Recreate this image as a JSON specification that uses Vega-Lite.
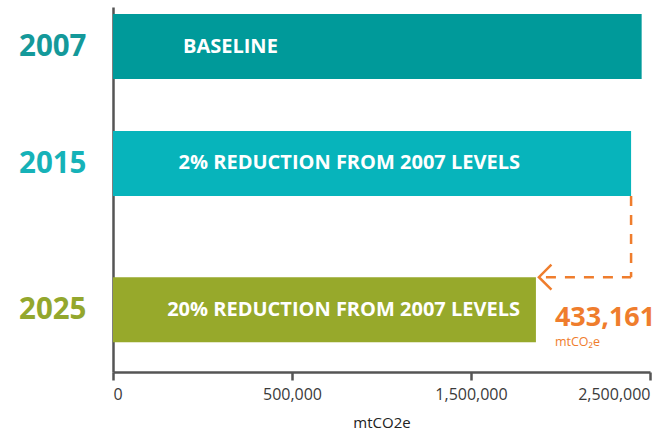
{
  "$schema": "https://vega.github.io/schema/vega-lite/v6.json",
  "autosize": "none",
  "width": 537,
  "height": 365,
  "padding": {"left": 113, "top": 7, "right": 12, "bottom": 61},
  "background": "white",
  "config": {"view": {"stroke": null}, "font": "Open Sans"},
  "datasets": {
    "bars": [
      {"year": 2007, "value": 2165805, "label": "BASELINE"},
      {"year": 2015, "value": 2122489, "label": "2% REDUCTION FROM 2007 LEVELS"},
      {"year": 2025, "value": 1732644, "label": "20% REDUCTION FROM 2007 LEVELS"}
    ],
    "note": [
      {"from_year": 2015, "to_year": 2025, "from_value": 2122489, "to_value": 1732644, "reduction": "433,161", "unit": "mtCO₂e"}
    ]
  },
  "encoding": {
    "y": {
      "field": "year", "type": "quantitative",
      "scale": {"domain": [2004.639, 2028.92], "reverse": true, "nice": false, "zero": false},
      "axis": {
        "title": null, "ticks": false, "grid": false, "values": [2007, 2015, 2025], "format": "d",
        "domainColor": "#555555", "domainWidth": 2.5,
        "labelFontSize": 29.5, "labelFontWeight": "bold", "labelPadding": 27, "labelFont": "Open Sans", "labelBaseline": "middle",
        "labelColor": {"condition": [{"test": "datum.value == 2007", "value": "#14999a"}, {"test": "datum.value == 2015", "value": "#16b2b8"}], "value": "#93a72d"}
      }
    }
  },
  "layer": [
    {
      "data": {"name": "bars"},
      "mark": {"type": "bar", "orient": "horizontal", "size": 65},
      "encoding": {
        "x": {
          "field": "value", "type": "quantitative",
          "scale": {"domain": [0, 2200000], "nice": false},
          "axis": {
            "values": [0, 733333.3333, 1466666.6667, 2200000],
            "labelExpr": "datum.value < 1 ? '0' : datum.value < 1000000 ? '500,000' : datum.value < 2000000 ? '1,500,000' : '2,500,000'",
            "grid": false, "domainColor": "#555555", "domainWidth": 2.5, "tickColor": "#555555", "tickWidth": 2.5, "tickSize": 8,
            "labelFontSize": 16, "labelColor": "#3a3a3a", "labelPadding": 6, "labelFlush": true,
            "title": "mtCO2e", "titleFontSize": 15, "titleFontWeight": "normal", "titleColor": "#222222", "titlePadding": 13
          }
        },
        "x2": {"datum": 0},
        "color": {
          "field": "year", "type": "nominal", "legend": null,
          "scale": {"domain": [2007, 2015, 2025], "range": ["#009a9a", "#07b4bb", "#97a92b"]}
        }
      }
    },
    {
      "data": {"name": "bars"},
      "transform": [{"filter": "datum.year == 2007"}],
      "mark": {"type": "text", "align": "left", "baseline": "middle", "color": "white", "fontSize": 20, "fontWeight": "bold"},
      "encoding": {"x": {"datum": 286778, "type": "quantitative"}, "text": {"field": "label"}}
    },
    {
      "data": {"name": "bars"},
      "transform": [{"filter": "datum.year != 2007"}],
      "mark": {"type": "text", "align": "right", "baseline": "middle", "color": "white", "fontSize": 20, "fontWeight": "bold"},
      "encoding": {"x": {"datum": 1667412, "type": "quantitative"}, "text": {"field": "label"}}
    },
    {
      "data": {"name": "note"},
      "mark": {"type": "rule", "color": "#ef7d2d", "strokeWidth": 2.5, "strokeDash": [10, 9], "yOffset": 32.5, "y2Offset": -32.5},
      "encoding": {
        "x": {"field": "from_value", "type": "quantitative"},
        "y": {"field": "from_year", "type": "quantitative"},
        "y2": {"field": "to_year"}
      }
    },
    {
      "data": {"name": "note"},
      "mark": {"type": "rule", "color": "#ef7d2d", "strokeWidth": 2.5, "strokeDash": [10, 9], "xOffset": 10, "yOffset": -32.5},
      "encoding": {
        "y": {"field": "to_year", "type": "quantitative"},
        "x": {"field": "to_value", "type": "quantitative"},
        "x2": {"field": "from_value"}
      }
    },
    {
      "data": {"name": "note"},
      "mark": {"type": "point", "shape": "M1,-1 L0,0 L1,1", "size": 625, "filled": false, "stroke": "#ef7d2d", "strokeWidth": 2.5, "xOffset": 3, "yOffset": -32.5, "opacity": 1},
      "encoding": {
        "y": {"field": "to_year", "type": "quantitative"},
        "x": {"field": "to_value", "type": "quantitative"}
      }
    },
    {
      "data": {"name": "note"},
      "mark": {"type": "text", "align": "left", "baseline": "alphabetic", "dx": 19, "dy": 16.5, "color": "#ef7d2d", "fontSize": 27, "fontWeight": "bold"},
      "encoding": {
        "y": {"field": "to_year", "type": "quantitative"},
        "x": {"field": "to_value", "type": "quantitative"},
        "text": {"field": "reduction"}
      }
    },
    {
      "data": {"name": "note"},
      "mark": {"type": "text", "align": "left", "baseline": "top", "dx": 19, "dy": 26, "color": "#ef7d2d", "fontSize": 12.5},
      "encoding": {
        "y": {"field": "to_year", "type": "quantitative"},
        "x": {"field": "to_value", "type": "quantitative"},
        "text": {"field": "unit"}
      }
    }
  ]
}
